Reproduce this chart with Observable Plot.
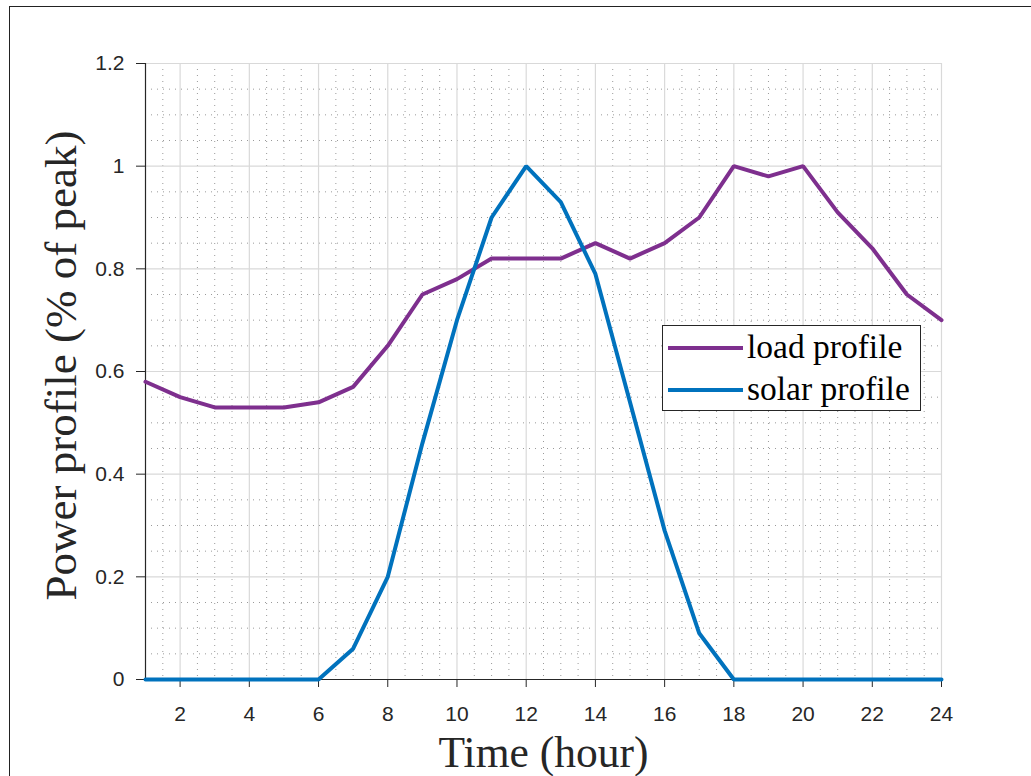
<!DOCTYPE html>
<html>
<head>
<meta charset="utf-8">
<script src="https://cdn.jsdelivr.net/npm/d3@7"></script>
<script src="https://cdn.jsdelivr.net/npm/@observablehq/plot@0.6"></script>
<style>
  html, body { margin: 0; padding: 0; background: #fff; }
  #wrap { position: relative; width: 1031px; height: 776px; overflow: hidden; }
  #frame { position: absolute; left: 9px; top: 6px; width: 1100px; height: 900px;
           border-top: 1.5px solid #222; border-left: 1.5px solid #222; pointer-events: none; }
  #legend { position: absolute; left: 662px; top: 325px; width: 259px; height: 86px;
            border: 1.5px solid #262626; background: #fff; box-sizing: border-box; }
  .item { position: absolute; left: 0; height: 40px; width: 100%; }
  .swatch { position: absolute; left: 5px; width: 75px; height: 0; border-top: 4px solid; }
  .label { position: absolute; left: 84px; font-family: "Liberation Serif", "Times New Roman", serif;
           font-size: 33.5px; color: #000; white-space: nowrap; line-height: 1; }
</style>
</head>
<body>
<div id="wrap">
  <div id="chart"></div>
  <div id="frame"></div>
  <div id="legend"></div>
</div>
<script>
// Hourly profiles, normalised to their peak value
const hours = [1, 2, 3, 4, 5, 6, 7, 8, 9, 10, 11, 12, 13, 14, 15, 16, 17, 18, 19, 20, 21, 22, 23, 24];
const loadProfile = [0.58, 0.55, 0.53, 0.53, 0.53, 0.54, 0.57, 0.65, 0.75, 0.78, 0.82, 0.82,
                     0.82, 0.85, 0.82, 0.85, 0.90, 1.00, 0.98, 1.00, 0.91, 0.84, 0.75, 0.70];
const solarProfile = [0, 0, 0, 0, 0, 0, 0.06, 0.20, 0.46, 0.70, 0.90, 1.00,
                      0.93, 0.79, 0.54, 0.29, 0.09, 0, 0, 0, 0, 0, 0, 0];
const seriesNames = ["load profile", "solar profile"];
const seriesColors = ["#7E2F8E", "#0072BD"];
const xTicks = [2, 4, 6, 8, 10, 12, 14, 16, 18, 20, 22, 24];
const yTicks = [0, 0.2, 0.4, 0.6, 0.8, 1, 1.2];
const xLabel = "Time (hour)";
const yLabel = "Power profile (% of peak)";

const rows = [];
hours.forEach((h, i) => {
  rows.push({hour: h, value: loadProfile[i], series: seriesNames[0]});
  rows.push({hour: h, value: solarProfile[i], series: seriesNames[1]});
});

// minor grid: every half hour and every 0.05 that is not a major line
const xMinor = d3.range(1.5, 24, 0.5).filter(v => !xTicks.includes(v));
const yMinor = d3.range(1, 24).map(k => +(k * 0.05).toFixed(2)).filter(v => !yTicks.some(t => Math.abs(t - v) < 1e-9));

const axisColor = "#262626";
const serif = "'Liberation Serif', 'Times New Roman', serif";

const chart = Plot.plot({
  width: 1031,
  height: 776,
  marginLeft: 145,
  marginRight: 90,
  marginTop: 63,
  marginBottom: 97,
  style: {fontFamily: "'Liberation Sans', Arial, sans-serif", fontSize: "21px", color: axisColor, background: "transparent"},
  x: {domain: [1, 24]},
  y: {domain: [0, 1.2]},
  color: {domain: seriesNames, range: seriesColors},
  marks: [
    Plot.ruleX(xMinor, {stroke: "#8f8f8f", strokeWidth: 1, strokeDasharray: "1,5", strokeOpacity: 0.9}),
    Plot.ruleY(yMinor, {stroke: "#8f8f8f", strokeWidth: 1, strokeDasharray: "1,5", strokeOpacity: 0.9}),
    Plot.ruleX(xTicks, {stroke: "#d9d9d9", strokeWidth: 1.2}),
    Plot.ruleY(yTicks.filter(v => v > 0), {stroke: "#d9d9d9", strokeWidth: 1.2}),
    Plot.axisX({ticks: xTicks, tickSize: 8, tickPadding: 19, tickFormat: d => String(d), label: null, stroke: axisColor}),
    Plot.axisY({ticks: yTicks, tickSize: 9, tickPadding: 12, tickFormat: d => String(d), label: null, stroke: axisColor}),
    Plot.ruleX([1], {stroke: axisColor, strokeWidth: 1.2}),
    Plot.ruleY([0], {stroke: axisColor, strokeWidth: 1.2}),
    Plot.line(rows, {x: "hour", y: "value", z: "series", stroke: "series", strokeWidth: 4, strokeLinejoin: "miter"}),
    Plot.text([xLabel], {frameAnchor: "bottom", dy: 87, lineAnchor: "bottom", textAnchor: "middle",
      fontFamily: serif, fontSize: 43.5, fill: axisColor}),
    Plot.text([yLabel], {frameAnchor: "left", dx: -70, dy: -6, rotate: -90, lineAnchor: "bottom", textAnchor: "middle",
      fontFamily: serif, fontSize: 45, fill: axisColor})
  ]
});
document.getElementById("chart").appendChild(chart);

// legend box inside the plot area
const legend = document.getElementById("legend");
seriesNames.forEach((name, i) => {
  const item = document.createElement("div");
  item.className = "item";
  item.style.top = (i === 0 ? 2 : 44) + "px";
  const sw = document.createElement("div");
  sw.className = "swatch";
  sw.style.borderTopColor = seriesColors[i];
  sw.style.top = "18px";
  const lb = document.createElement("div");
  lb.className = "label";
  lb.style.top = "2px";
  lb.textContent = name;
  item.appendChild(sw);
  item.appendChild(lb);
  legend.appendChild(item);
});
</script>
</body>
</html>
